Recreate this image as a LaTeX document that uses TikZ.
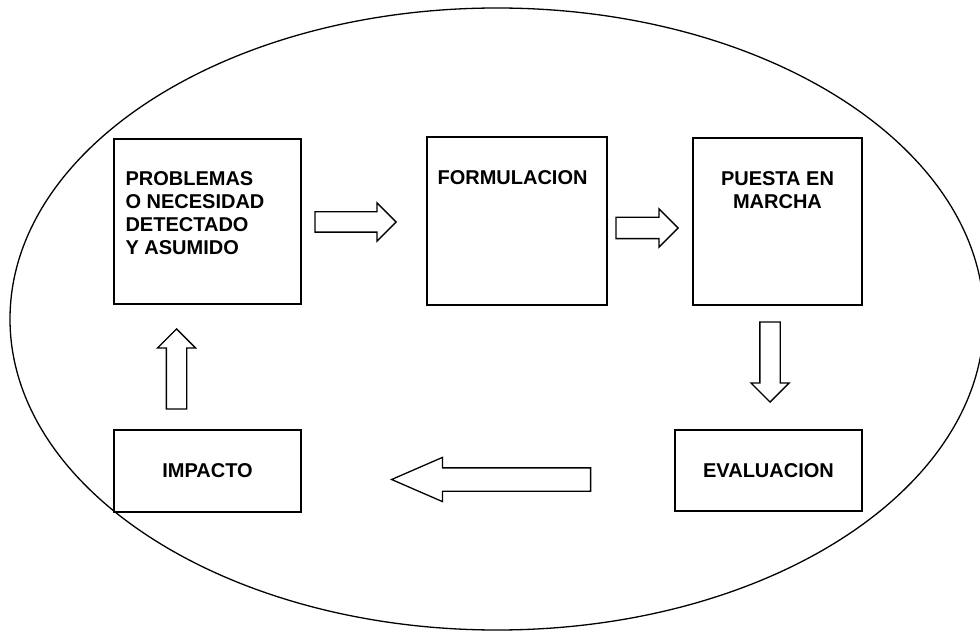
\documentclass[tikz,border=0pt]{standalone}
\usepackage{fontspec}
\setmainfont{Liberation Sans}
\usetikzlibrary{shapes.arrows, positioning}
\tikzset{
  stagebox/.style={rectangle, draw, line width=1.3pt, inner sep=0pt, font=\fontsize{20}{23}\selectfont\bfseries, align=center},
  stagetext/.style={inner sep=0pt, font=\fontsize{20}{23}\selectfont\bfseries},
  blockarrow/.style={single arrow, draw, line width=1.3pt, inner sep=9.5pt, minimum width=37pt, single arrow head extend=9pt, single arrow head indent=0pt, anchor=tip}
}
\begin{document}
\begin{tikzpicture}[x=1pt, y=-1pt]
  \useasboundingbox (0,0) rectangle (980,631);
  \draw[line width=1.3pt] (497,319) ellipse [x radius=487pt, y radius=311pt];

  \node[stagebox, minimum width=187pt, minimum height=165pt] (problema) at (207.5,221.5) {};
  \node[stagebox, minimum width=180pt, minimum height=168pt] (formulacion) at (517,221) {};
  \node[stagebox, minimum width=169pt, minimum height=167pt] (marcha) at (777.5,221.5) {};
  \node[stagebox, minimum width=187pt, minimum height=81pt] (evaluacion) at (768.5,470.5) {EVALUACION};
  \node[stagebox, minimum width=187pt, minimum height=82pt] (impacto) at (207.5,471) {IMPACTO};

  \node[stagetext, align=left, anchor=north west, below right=33pt and 12pt of problema.north west] (problematxt) {PROBLEMAS\\O NECESIDAD\\DETECTADO\\Y ASUMIDO};
  \node[stagetext, anchor=north west, below right=34pt and 11pt of formulacion.north west] (formulaciontxt) {FORMULACION};
  \node[stagetext, align=center, anchor=north, below=34pt of marcha.north] (marchatxt) {PUESTA EN\\MARCHA};

  \node[blockarrow, minimum height=81pt] (a1) at (397,222) {};
  \node[blockarrow, minimum height=62pt, inner sep=10pt, single arrow head extend=8.5pt] (a2) at (679,228) {};
  \node[blockarrow, minimum height=80pt, shape border rotate=270] (a3) at (770,403) {};
  \node[blockarrow, minimum height=80pt, shape border rotate=90] (a4) at (176.5,328) {};
  \node[blockarrow, minimum height=199pt, minimum width=43pt, inner sep=11pt, single arrow head extend=10.5pt, single arrow tip angle=47, shape border rotate=180] (a5) at (390,479.5) {};
\end{tikzpicture}
\end{document}
